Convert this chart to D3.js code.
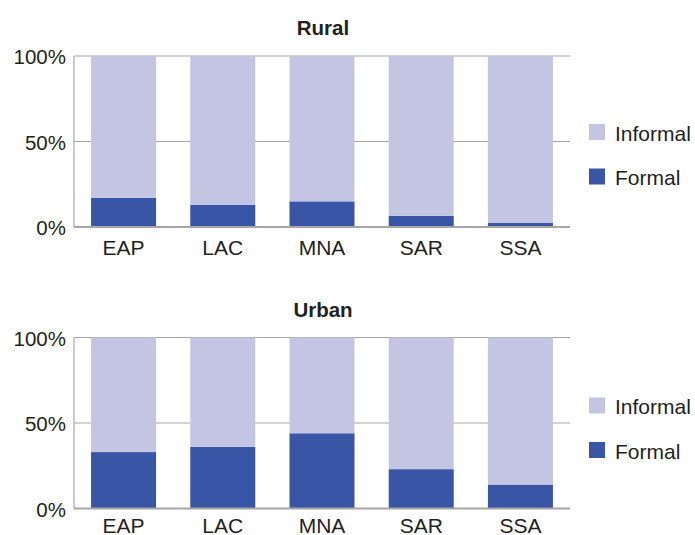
<!DOCTYPE html>
<html>
<head>
<meta charset="utf-8">
<script src="https://cdn.jsdelivr.net/npm/d3@7"></script>
<style>
  body { margin: 0; background: #fff; }
  text { font-family: "Liberation Sans", Arial, sans-serif; fill: #231f20; }
</style>
</head>
<body>
<div id="chart"></div>
<script>
// regions and shares of formal employment (percent)
const regions = ["EAP", "LAC", "MNA", "SAR", "SSA"];
const ruralFormal = [17, 13, 15, 6.5, 2.5];
const urbanFormal = [33, 36, 44, 23, 14];
const yTicks = [0, 50, 100];
const seriesNames = ["Informal", "Formal"];
const colors = { Informal: "#c4c5e2", Formal: "#3955a6" };

const svg = d3.select("#chart").append("svg")
    .attr("width", 695)
    .attr("height", 535);

const left = 74, right = 570;

const x = d3.scaleBand().domain(regions).range([left, right]).paddingInner(0.345).paddingOuter(0.172);

function panel(title, formal, top, bottom, legendTop, labelY) {
    const y = d3.scaleLinear().domain([0, 100]).range([bottom, top]);
    const g = svg.append("g");

    // gridlines
    g.selectAll(".grid").data(yTicks.filter(d => d > 0)).enter().append("line")
        .attr("x1", left).attr("x2", right)
        .attr("y1", d => y(d)).attr("y2", d => y(d))
        .attr("stroke", "#a6a6a6").attr("stroke-width", 1.2);

    const rows = regions.map((r, i) => ({ region: r, Formal: formal[i], Informal: 100 - formal[i] }));
    const stacked = d3.stack().keys(["Formal", "Informal"])(rows);

    g.selectAll(".series").data(stacked).enter().append("g")
        .attr("fill", d => colors[d.key])
        .selectAll("rect").data(d => d).enter().append("rect")
        .attr("x", d => x(d.data.region))
        .attr("width", x.bandwidth())
        .attr("y", d => y(d[1]))
        .attr("height", d => y(d[0]) - y(d[1]));

    // axes lines
    g.append("line").attr("x1", left).attr("x2", left).attr("y1", y(100)).attr("y2", y(0))
        .attr("stroke", "#a6a6a6").attr("stroke-width", 1.2);
    g.append("line").attr("x1", left).attr("x2", right).attr("y1", y(0)).attr("y2", y(0))
        .attr("stroke", "#a6a6a6").attr("stroke-width", 2);

    g.selectAll(".ytick").data(yTicks).enter().append("text")
        .attr("x", left - 8).attr("y", d => y(d) + 8)
        .attr("text-anchor", "end").attr("font-size", 20.5)
        .text(d => d + "%");

    g.selectAll(".xtick").data(regions).enter().append("text")
        .attr("x", d => x(d) + x.bandwidth() / 2).attr("y", labelY)
        .attr("text-anchor", "middle").attr("font-size", 21)
        .text(d => d);

    g.append("text").attr("x", (left + right) / 2 + 1).attr("y", top - 21)
        .attr("text-anchor", "middle").attr("font-size", 20.5).attr("font-weight", "bold")
        .text(title);

    // legend
    const lg = g.selectAll(".legend").data(seriesNames).enter().append("g")
        .attr("transform", (d, i) => "translate(589," + (legendTop + i * 44.5) + ")");
    lg.append("rect").attr("width", 16).attr("height", 16).attr("fill", d => colors[d]);
    lg.append("text").attr("x", 26).attr("y", 16.5).attr("font-size", 21).text(d => d);
}

panel("Rural", ruralFormal, 56, 227, 124, 255);
panel("Urban", urbanFormal, 337.5, 508.5, 397.5, 533);
</script>
</body>
</html>
